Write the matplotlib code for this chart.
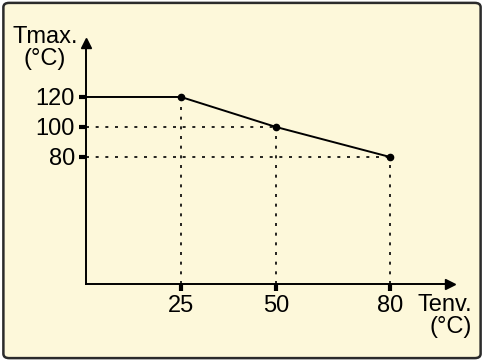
import matplotlib.pyplot as plt
from matplotlib.patches import FancyBboxPatch

# derating curve values
t_env = [25, 50, 80]
t_max = [120, 100, 80]
x_ticks = [25, 50, 80]
y_ticks = [80, 100, 120]

bg = "#fdf8da"
plt.rcParams["font.family"] = ["Liberation Sans", "DejaVu Sans"]

fig = plt.figure(figsize=(4.84, 3.61), dpi=100)
fig.patch.set_facecolor("white")
frame = FancyBboxPatch((0.007, 0.008), 0.986, 0.984,
                       boxstyle="round,pad=0,rounding_size=0.012",
                       transform=fig.transFigure, facecolor=bg,
                       edgecolor="#2b2b2b", linewidth=1.8, zorder=-10)
fig.patches.append(frame)

ax = fig.add_axes([86 / 484, 77 / 361, 364 / 484, 241 / 361])
ax.set_facecolor("none")
ax.set_xlim(0, 95.8)
ax.set_ylim(-4.7, 156)

for s in ["top", "right"]:
    ax.spines[s].set_visible(False)
for s in ["left", "bottom"]:
    ax.spines[s].set_linewidth(1.4)

# arrow heads on the axes
ax.plot(1, 0, ">k", ms=7, transform=ax.transAxes, clip_on=False)
ax.plot(0, 1, "^k", ms=7, transform=ax.transAxes, clip_on=False)

# dotted guide lines
dots = dict(color="black", lw=1.2, ls=(0, (1.8, 4)))
for x, y in zip(t_env, t_max):
    ax.plot([x, x], [ax.get_ylim()[0], y], **dots)
    if x != t_env[0]:
        ax.plot([0, x], [y, y], **dots)

# curve
ax.plot([0] + t_env, [t_max[0]] + t_max, color="black", lw=1.4)
ax.plot(t_env, t_max, "o", color="black", ms=4.5)

ax.set_xticks(x_ticks)
ax.set_yticks(y_ticks)
ax.tick_params(axis="both", length=5, width=3, labelsize=17, pad=3)

fig.text(45 / 484, 1 - 48 / 361, "Tmax.\n(°C)", fontsize=17,
         ha="center", va="center", linespacing=0.95)
fig.text(472 / 484, 1 - 316 / 361, "Tenv.\n(°C)", fontsize=17,
         ha="right", va="center", linespacing=0.95, multialignment="right")

fig.savefig("out.png", dpi=100, facecolor=fig.get_facecolor())
